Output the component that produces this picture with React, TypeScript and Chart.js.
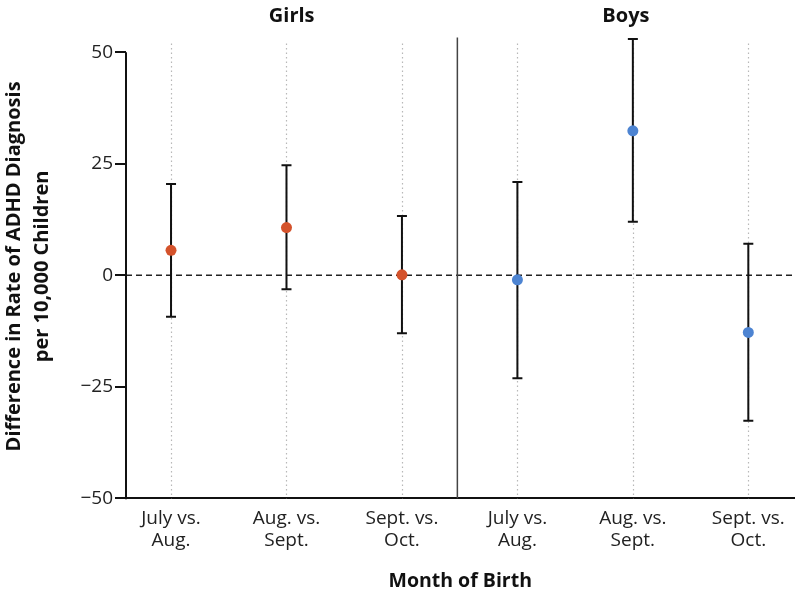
import React, { useEffect, useRef } from "react";
import { Chart, registerables } from "chart.js";

Chart.register(...registerables);

const xLabels: string[][] = [
  ["July vs.", "Aug."],
  ["Aug. vs.", "Sept."],
  ["Sept. vs.", "Oct."],
  ["July vs.", "Aug."],
  ["Aug. vs.", "Sept."],
  ["Sept. vs.", "Oct."],
];
const panelTitles = ["Girls", "Boys"];
const yTicks = [-50, -25, 0, 25, 50];

const girlsPos = [0, 1, 2];
const girlsEst = [5.6, 10.7, 0.1];
const girlsLow = [-9.3, -3.1, -13.0];
const girlsHigh = [20.5, 24.7, 13.3];

const boysPos = [3, 4, 5];
const boysEst = [-1.0, 32.4, -12.8];
const boysLow = [-23.1, 12.0, -32.6];
const boysHigh = [20.9, 53.0, 7.1];

const dividerPos = 2.48;

const FONT = "'Open Sans', 'Noto Sans', sans-serif";

const decorPlugin = {
  id: "decor",
  beforeDatasetsDraw(chart: any) {
    const { ctx, chartArea, scales } = chart;
    const x = scales.x;
    const y = scales.y;
    ctx.save();
    // dotted category guides
    ctx.strokeStyle = "#b8b8b8";
    ctx.lineWidth = 1.2;
    ctx.setLineDash([1.5, 3]);
    const guideTop = y.getPixelForValue(52);
    [...girlsPos, ...boysPos].forEach((p) => {
      const px = Math.round(x.getPixelForValue(p)) + 0.5;
      ctx.beginPath();
      ctx.moveTo(px, guideTop);
      ctx.lineTo(px, chartArea.bottom);
      ctx.stroke();
    });
    // zero dashed line
    ctx.setLineDash([6, 4]);
    ctx.strokeStyle = "#222";
    ctx.lineWidth = 1.5;
    const y0 = y.getPixelForValue(0);
    ctx.beginPath();
    ctx.moveTo(chartArea.left, y0);
    ctx.lineTo(chartArea.right, y0);
    ctx.stroke();
    ctx.setLineDash([]);
    // divider
    ctx.strokeStyle = "#444";
    ctx.lineWidth = 1.5;
    const dx = x.getPixelForValue(dividerPos);
    ctx.beginPath();
    ctx.moveTo(dx, y.getPixelForValue(53.3));
    ctx.lineTo(dx, chartArea.bottom);
    ctx.stroke();
    // y axis line from -50 to 50
    ctx.strokeStyle = "#111";
    ctx.lineWidth = 2;
    ctx.beginPath();
    ctx.moveTo(chartArea.left, y.getPixelForValue(50));
    ctx.lineTo(chartArea.left, y.getPixelForValue(-50) + 1);
    ctx.stroke();
    // error bars
    const drawBars = (pos: number[], low: number[], high: number[]) => {
      pos.forEach((p, i) => {
        const px = x.getPixelForValue(p);
        const yl = y.getPixelForValue(low[i]);
        const yh = y.getPixelForValue(high[i]);
        ctx.strokeStyle = "#111";
        ctx.lineWidth = 2;
        ctx.beginPath();
        ctx.moveTo(px, yh);
        ctx.lineTo(px, yl);
        ctx.moveTo(px - 5, yh);
        ctx.lineTo(px + 5, yh);
        ctx.moveTo(px - 5, yl);
        ctx.lineTo(px + 5, yl);
        ctx.stroke();
      });
    };
    drawBars(girlsPos, girlsLow, girlsHigh);
    drawBars(boysPos, boysLow, boysHigh);
    // panel titles
    ctx.fillStyle = "#111";
    ctx.font = `bold 20px ${FONT}`;
    ctx.textAlign = "center";
    ctx.textBaseline = "middle";
    const gc = (chartArea.left + dx) / 2;
    const bc = (dx + chartArea.right) / 2;
    ctx.fillText(panelTitles[0], gc, 16);
    ctx.fillText(panelTitles[1], bc, 16);
    ctx.restore();
  },
};

export default function App() {
  const ref = useRef<HTMLCanvasElement>(null);
  useEffect(() => {
    if (!ref.current) return;
    const chart = new Chart(ref.current, {
      type: "scatter",
      data: {
        datasets: [
          {
            label: "Girls",
            data: girlsPos.map((p, i) => ({ x: p, y: girlsEst[i] })),
            backgroundColor: "#d4522b",
            borderColor: "#d4522b",
            pointRadius: 5.5,
            pointBorderWidth: 0,
          },
          {
            label: "Boys",
            data: boysPos.map((p, i) => ({ x: p, y: boysEst[i] })),
            backgroundColor: "#4d84d2",
            borderColor: "#4d84d2",
            pointRadius: 5.5,
            pointBorderWidth: 0,
          },
        ],
      },
      options: {
        animation: false,
        responsive: true,
        maintainAspectRatio: false,
        layout: { padding: { top: 34.5, right: 2, left: 0, bottom: 0 } },
        plugins: {
          legend: { display: false },
          tooltip: { enabled: false },
        },
        scales: {
          x: {
            type: "linear",
            min: -0.39,
            max: 5.4,
            afterFit: (s: any) => {
              s.height = 96.7;
            },
            afterBuildTicks: (s: any) => {
              s.ticks = xLabels.map((_, i) => ({ value: i }));
            },
            grid: { display: false, drawTicks: false },
            border: { display: true, color: "#111", width: 2 },
            ticks: {
              padding: 9,
              color: "#222",
              font: { family: FONT, size: 19, lineHeight: 1.18 },
              callback: (v: any) => xLabels[Math.round(Number(v))] ?? "",
              maxRotation: 0,
              autoSkip: false,
            },
            title: {
              display: true,
              text: "Month of Birth",
              color: "#111",
              font: { family: FONT, size: 19.5, weight: "bold" },
              padding: { top: 0, bottom: 2 },
            },
          },
          y: {
            min: -50,
            max: 54,
            afterFit: (s: any) => {
              s.width = 126;
            },
            afterBuildTicks: (s: any) => {
              s.ticks = yTicks.map((v) => ({ value: v }));
            },
            grid: {
              drawOnChartArea: false,
              drawTicks: true,
              tickLength: 11,
              color: "#111",
              lineWidth: 2,
            },
            border: { display: false },
            ticks: {
              padding: 2,
              color: "#222",
              font: { family: FONT, size: 19 },
              callback: (v: any) => (Number(v) < 0 ? "\u2212" + Math.abs(Number(v)) : String(v)),
            },
            title: {
              display: true,
              text: ["Difference in Rate of ADHD Diagnosis", "per 10,000 Children"],
              color: "#111",
              font: { family: FONT, size: 20, weight: "bold", lineHeight: 1.4 },
              padding: { top: 0, bottom: 0 },
            },
          },
        },
      },
      plugins: [decorPlugin],
    });
    return () => chart.destroy();
  }, []);
  return (
    <div style={{ position: "fixed", left: 0, top: 0, width: 800, height: 595, background: "#fff" }}>
      <canvas ref={ref} />
    </div>
  );
}
